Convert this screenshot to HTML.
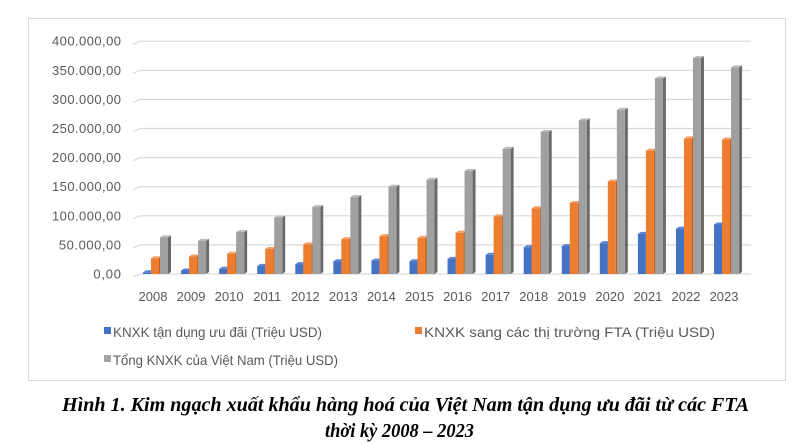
<!DOCTYPE html>
<html><head><meta charset="utf-8"><style>
html,body{margin:0;padding:0;background:#fff;}
body{width:795px;height:444px;overflow:hidden;position:relative;}
svg{position:absolute;left:0;top:0;}
</style></head><body>
<svg id="s" width="795" height="444" xmlns="http://www.w3.org/2000/svg"></svg>
<script>
var s=document.getElementById('s'),h='';
h+='<rect x="28.5" y="18.5" width="757" height="362" fill="#fff" stroke="#d9d9d9"/>';
var base=274,pk=0.582;
var labs=['0,00','50.000,00','100.000,00','150.000,00','200.000,00','250.000,00','300.000,00','350.000,00','400.000,00'];
for(var k=0;k<=8;k++){var y=base-k*50*pk;
h+='<polyline points="133,'+(y+3)+' 140,'+y+' 751,'+y+'" fill="none" stroke="#d9d9d9" stroke-width="1.2"/>';
h+='<text x="121" y="'+(y+4.5)+'" text-anchor="end" font-family="Liberation Sans,sans-serif" font-size="13" fill="#595959" textLength="'+(labs[k].length*6.9)+'">'+labs[k]+'</text>';}
var B=[3,6,9,14,17,22,23,22,26,33,46,48,53,69,78,85];
var O=[27,30,35,43,51,60,65,62,71,99,113,122,159,212,233,231];
var G=[63,57,72,97,115,132,150,162,177,215,244,264,282,336,371,355];
function bar(x,v,f,side,top){var y=base-v*pk,w=8,d=3,e=2;
return '<polygon points="'+(x+w)+','+base+' '+(x+w+d)+','+(base-e)+' '+(x+w+d)+','+(y-e)+' '+(x+w)+','+y+'" fill="'+side+'"/>'+
'<polygon points="'+x+','+y+' '+(x+d)+','+(y-e)+' '+(x+w+d)+','+(y-e)+' '+(x+w)+','+y+'" fill="'+top+'"/>'+
'<rect x="'+x+'" y="'+y+'" width="'+w+'" height="'+(base-y)+'" fill="'+f+'"/>';}
for(var i=0;i<16;i++){var c=153+i*38.07;
h+=bar(c-10,B[i],'#4472c4','#2f5597','#5b86d6');
h+=bar(c-2,O[i],'#ed7d31','#c55a11','#f4a06a');
h+=bar(c+7,G[i],'#a0a0a0','#6a6a6a','#bababa');
h+='<text x="'+c+'" y="301" text-anchor="middle" font-family="Liberation Sans,sans-serif" font-size="13" fill="#595959">'+(2008+i)+'</text>';}
var F='font-family="Liberation Sans,sans-serif" font-size="14" fill="#595959"';
h+='<rect x="104" y="327" width="7" height="7" fill="#4472c4"/><text x="113" y="337" '+F+' textLength="209" lengthAdjust="spacingAndGlyphs">KNXK tận dụng ưu đãi (Triệu USD)</text>';
h+='<rect x="415" y="327" width="7" height="7" fill="#ed7d31"/><text x="424" y="337" '+F+' textLength="291" lengthAdjust="spacingAndGlyphs">KNXK sang các thị trường FTA (Triệu USD)</text>';
h+='<rect x="104" y="355" width="7" height="7" fill="#a5a5a5"/><text x="113" y="365" '+F+' textLength="225" lengthAdjust="spacingAndGlyphs">Tổng KNXK của Việt Nam (Triệu USD)</text>';
var C='font-family="Liberation Serif,serif" font-weight="bold" font-style="italic" font-size="20" fill="#000"';
h+='<text x="62" y="411" '+C+' textLength="687" lengthAdjust="spacingAndGlyphs">Hình 1. Kim ngạch xuất khẩu hàng hoá của Việt Nam tận dụng ưu đãi từ các FTA</text>';
h+='<text x="325" y="437" '+C+' textLength="149" lengthAdjust="spacingAndGlyphs">thời kỳ 2008 – 2023</text>';
s.innerHTML=h;
</script>
</body></html>
